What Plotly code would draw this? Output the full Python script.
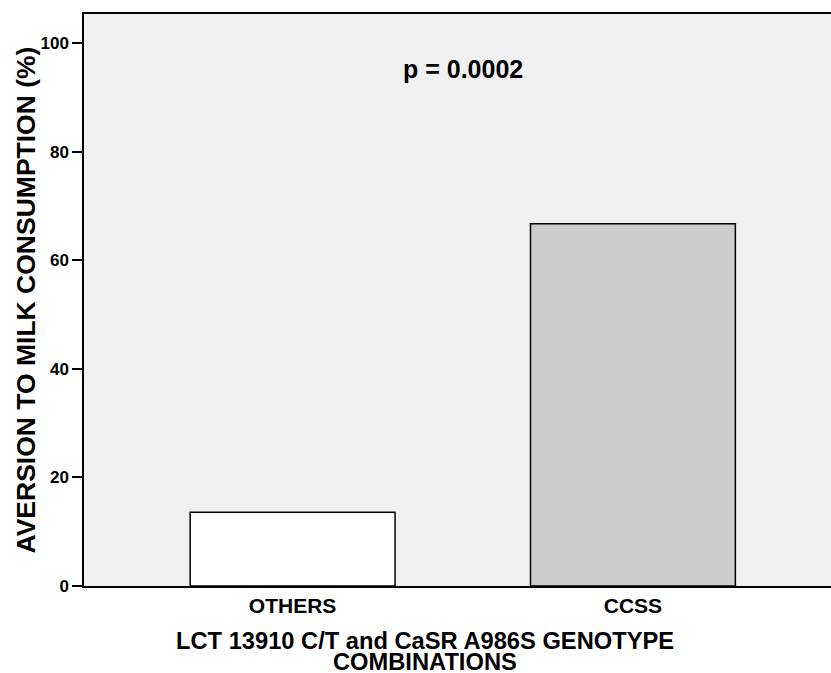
import plotly.graph_objects as go

# Genotype groups and percentage with aversion to milk consumption
categories = ["OTHERS", "CCSS"]
aversion_pct = [13.6, 66.7]
bar_colors = ["#ffffff", "#cccccc"]
y_ticks = [0, 20, 40, 60, 80, 100]
p_label = "p = 0.0002"
y_title = "AVERSION TO MILK CONSUMPTION (%)"
x_title_lines = ["LCT 13910 C/T and CaSR A986S GENOTYPE", "COMBINATIONS"]

W, H = 831, 673
ML, MR, MT, MB = 84, 0, 14, 87
plot_w = W - ML - MR
plot_h = H - MT - MB

FONT = "Liberation Sans, Arial, Helvetica, sans-serif"

fig = go.Figure()
fig.add_trace(go.Bar(
    x=[0, 1],
    y=aversion_pct,
    width=0.602,
    marker=dict(color=bar_colors, line=dict(color="#000000", width=1.5)),
    hoverinfo="skip",
))


def px_to_paper_y(py):
    return (H - MB - py) / plot_h


def px_to_paper_x(px):
    return (px - ML) / plot_w


annotations = [
    dict(text="<b>%s</b>" % p_label, x=0.5, y=95.3, xref="x", yref="y",
         showarrow=False, xanchor="center", yanchor="middle",
         font=dict(family=FONT, size=25, color="#000000")),
    dict(text="<b>%s</b>" % y_title, x=px_to_paper_x(25.5), y=0.5,
         xref="paper", yref="paper", textangle=-90, showarrow=False,
         xanchor="center", yanchor="middle",
         font=dict(family=FONT, size=26.5, color="#000000")),
]
for line, py in zip(x_title_lines, [641, 662]):
    annotations.append(dict(
        text="<b>%s</b>" % line, x=px_to_paper_x(425), y=px_to_paper_y(py),
        xref="paper", yref="paper", showarrow=False,
        xanchor="center", yanchor="middle",
        font=dict(family=FONT, size=23.7, color="#000000")))

fig.update_layout(
    width=W, height=H,
    margin=dict(l=ML, r=MR, t=MT, b=MB, pad=0),
    paper_bgcolor="#ffffff",
    plot_bgcolor="#f0f0f0",
    showlegend=False,
    annotations=annotations,
    xaxis=dict(
        range=[-0.613, 1.582],
        tickmode="array", tickvals=[0, 1],
        ticktext=["<b>%s</b>" % c for c in categories],
        tickfont=dict(family=FONT, size=21, color="#000000"),
        showgrid=False, zeroline=False,
        showline=True, mirror=True, linecolor="#000000", linewidth=1.5,
        ticks="",
    ),
    yaxis=dict(
        range=[0, 105.35],
        tickmode="array", tickvals=y_ticks,
        ticktext=["<b>%d</b>" % v for v in y_ticks],
        tickfont=dict(family=FONT, size=17, color="#000000"),
        showgrid=False, zeroline=False,
        showline=True, linecolor="#000000", linewidth=1.5,
        ticks="outside", ticklen=10, tickwidth=1.5, tickcolor="#000000",
    ),
)

fig.write_html("out.html")
